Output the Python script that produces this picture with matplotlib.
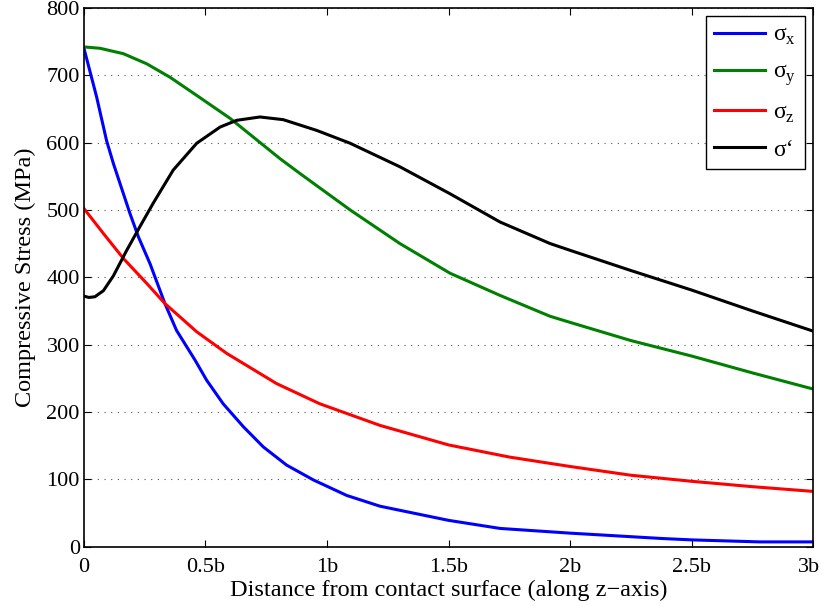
import numpy as np
import matplotlib
matplotlib.use("Agg")
import matplotlib.pyplot as plt
from matplotlib.transforms import ScaledTranslation

plt.rcParams['font.family'] = ['Liberation Serif', 'DejaVu Serif']
plt.rcParams['mathtext.fontset'] = 'custom'
plt.rcParams['mathtext.rm'] = 'Liberation Serif'

# values (x in units of b, stress in MPa)
x_sx = [0, 0.052, 0.093, 0.121, 0.189, 0.224, 0.272, 0.333, 0.381, 0.457, 0.505,
        0.573, 0.656, 0.738, 0.834, 0.944, 1.081, 1.218, 1.5, 1.712, 2.0, 2.38,
        2.5, 2.78, 3.0]
sx = [740, 668, 603, 569, 495, 460, 420, 361, 321, 277, 247,
      212, 178, 148, 121, 99, 76, 60, 39, 27, 20, 12,
      10, 7, 7]

x_sy = [0, 0.066, 0.162, 0.258, 0.354, 0.464, 0.601, 0.711, 0.807, 0.889, 1.095,
        1.3, 1.506, 1.712, 1.918, 2.0, 2.25, 2.5, 2.75, 3.0]
sy = [742, 740, 732, 717, 697, 670, 636, 604, 576, 554, 500,
      450, 406, 373, 342, 333, 306, 283, 258, 234]

x_sz = [0, 0.08, 0.162, 0.258, 0.333, 0.464, 0.587, 0.793, 0.971, 1.218, 1.5,
        1.75, 2.0, 2.25, 2.5, 2.75, 3.0]
sz = [502, 465, 428, 391, 361, 319, 287, 242, 212, 180, 151,
      133, 119, 106, 97, 89, 82]

x_se = [0, 0.02, 0.045, 0.08, 0.121, 0.176, 0.23, 0.285, 0.367, 0.464, 0.56, 0.628,
        0.724, 0.82, 0.958, 1.095, 1.3, 1.506, 1.712, 1.918, 2.0, 2.25, 2.5,
        2.75, 3.0]
se = [372, 370, 371, 380, 402, 440, 475, 510, 559, 599, 623, 633,
      638, 634, 618, 599, 564, 524, 482, 450, 440, 410, 381,
      350, 320]

xticks = [0, 0.5, 1, 1.5, 2, 2.5, 3]
xticklabels = ['0', '0.5b', '1b', '1.5b', '2b', '2.5b', '3b']
yticks = [0, 100, 200, 300, 400, 500, 600, 700, 800]

fig = plt.figure(figsize=(8.23, 6.06), dpi=100)
ax = fig.add_axes([0.102, 0.098, 0.886, 0.889])

lw = 2.2
ax.plot(x_sx, sx, color='#0000ff', lw=lw, label=r'σ$_\mathregular{x}$')
ax.plot(x_sy, sy, color='#008000', lw=lw, label=r'σ$_\mathregular{y}$')
ax.plot(x_sz, sz, color='#ff0000', lw=lw, label=r'σ$_\mathregular{z}$')
ax.plot(x_se, se, color='#000000', lw=lw, label='σ‘')

ax.set_xlim(0, 3)
ax.set_ylim(0, 800)
ax.set_xticks(xticks)
ax.set_xticklabels(xticklabels)
ax.set_yticks(yticks)
ax.tick_params(direction='in', top=True, right=True, length=5, width=0.8,
               labelsize=16)
ax.tick_params(axis='x', pad=8.5)
ax.tick_params(axis='y', pad=3)
ax.yaxis.grid(True, linestyle=(0, (1, 5)), color='#555555', lw=0.8)
for s in ax.spines.values():
    s.set_linewidth(1.2)

# nudge the last x label so it stays inside the figure
last = ax.get_xticklabels()[-1]
last.set_transform(last.get_transform() + ScaledTranslation(-3 / 72, 0, fig.dpi_scale_trans))

ax.set_xlabel('Distance from contact surface (along z\u2212axis)', fontsize=17.5, labelpad=1.5)
ax.set_ylabel('Compressive Stress (MPa)', fontsize=17.5, labelpad=7.5)

leg = ax.legend(loc='upper right', fontsize=17, fancybox=False, framealpha=1,
                edgecolor='black', handlelength=2.15, labelspacing=0.6,
                borderpad=0.35, handletextpad=0.35, borderaxespad=0.35)
leg.get_frame().set_linewidth(1.0)

fig.savefig('out.png', dpi=100)
